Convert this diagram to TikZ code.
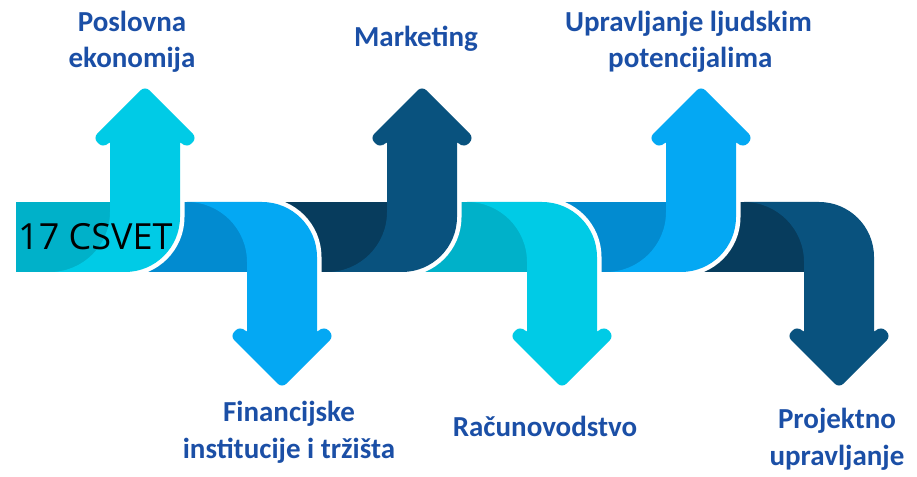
\documentclass[tikz,border=0pt]{standalone}
\usepackage{fontspec}
\setmainfont{Carlito}
\newfontfamily\csvetfont{Open Sans}
\usetikzlibrary{positioning}

\definecolor{cyanlight}{HTML}{00CBE6}
\definecolor{cyandark}{HTML}{00B1C9}
\definecolor{bluelight}{HTML}{04A8F3}
\definecolor{bluedark}{HTML}{028BD0}
\definecolor{navylight}{HTML}{09527E}
\definecolor{navydark}{HTML}{073C5D}
\definecolor{lblblue}{HTML}{1B4FA6}

\tikzset{
  outline/.style={draw=white, line width=9pt, line join=round},
  lbl/.style={font=\bfseries\fontsize{29}{36}\selectfont, text=lblblue, align=center, inner sep=0pt, anchor=base},
}

% arrow body leaving the band, #1 = left edge of the shaft
\newcommand{\bodyUp}[1]{(#1-60,204) arc[start angle=270,end angle=360,radius=60] -- (#1,345) -- (#1+70,345) -- (#1+70,259) arc[start angle=0,end angle=-90,radius=55] -- cycle}
\newcommand{\bodyDown}[1]{(#1-60,274) arc[start angle=90,end angle=0,radius=60] -- (#1,133) -- (#1+70,133) -- (#1+70,219) arc[start angle=0,end angle=90,radius=55] -- cycle}
% arrow heads
\newcommand{\headUp}[1]{(#1,335) -- (#1-7,328) -- (#1-17,338) -- (#1+35,390) -- (#1+87,338) -- (#1+77,328) -- (#1+70,335) -- cycle}
\newcommand{\headDown}[1]{(#1,143) -- (#1-7,150) -- (#1-17,140) -- (#1+35,88) -- (#1+87,140) -- (#1+77,150) -- (#1+70,143) -- cycle}
% #1 shaft, #2 band start, #3 light, #4 dark
\newcommand{\arrowUp}[4]{%
  \draw[outline] (#2,204) rectangle (#1+15,274);
  \draw[outline] \bodyUp{#1};
  \draw[outline, rounded corners=6pt] \headUp{#1};
  \fill[#4] (#2,204) rectangle (#1+15,274);
  \fill[#3] \bodyUp{#1};
  \fill[#3, rounded corners=6pt] \headUp{#1};
}
\newcommand{\arrowDown}[4]{%
  \draw[outline] (#2,204) rectangle (#1+15,274);
  \draw[outline] \bodyDown{#1};
  \draw[outline, rounded corners=6pt] \headDown{#1};
  \fill[#4] (#2,204) rectangle (#1+15,274);
  \fill[#3] \bodyDown{#1};
  \fill[#3, rounded corners=6pt] \headDown{#1};
}

\begin{document}
\begin{tikzpicture}[x=1pt, y=1pt]
  \useasboundingbox (0,0) rectangle (917,476);
  % Arrows, right to left
  \arrowDown{804}{681}{navylight}{navydark}
  \arrowUp{666}{542}{bluelight}{bluedark}
  \arrowDown{527}{402}{cyanlight}{cyandark}
  \arrowUp{387}{262}{navylight}{navydark}
  \arrowDown{247}{125}{bluelight}{bluedark}
  \arrowUp{110}{16}{cyanlight}{cyandark}
  % Start
  \node[anchor=base west, inner sep=0pt, font=\csvetfont\fontsize{36}{40}\selectfont] (csvet) at (18,226) {17 CSVET};
  % Labels (base = last line)
  \node[lbl] (poslovna) at (132,408) {Poslovna\\ekonomija};
  \node[lbl] (marketing) at (416,429) {Marketing};
  \node[lbl, align=left, anchor=base west] (upravljanje) at (565,408) {Upravljanje ljudskim\\\hspace*{43pt}potencijalima};
  \node[lbl] (financijske) at (289,18) {Financijske\\institucije i tržišta};
  \node[lbl] (racunovodstvo) at (545,39) {Računovodstvo};
  \node[lbl] (projektno) at (837,11) {Projektno\\upravljanje};
\end{tikzpicture}
\end{document}
